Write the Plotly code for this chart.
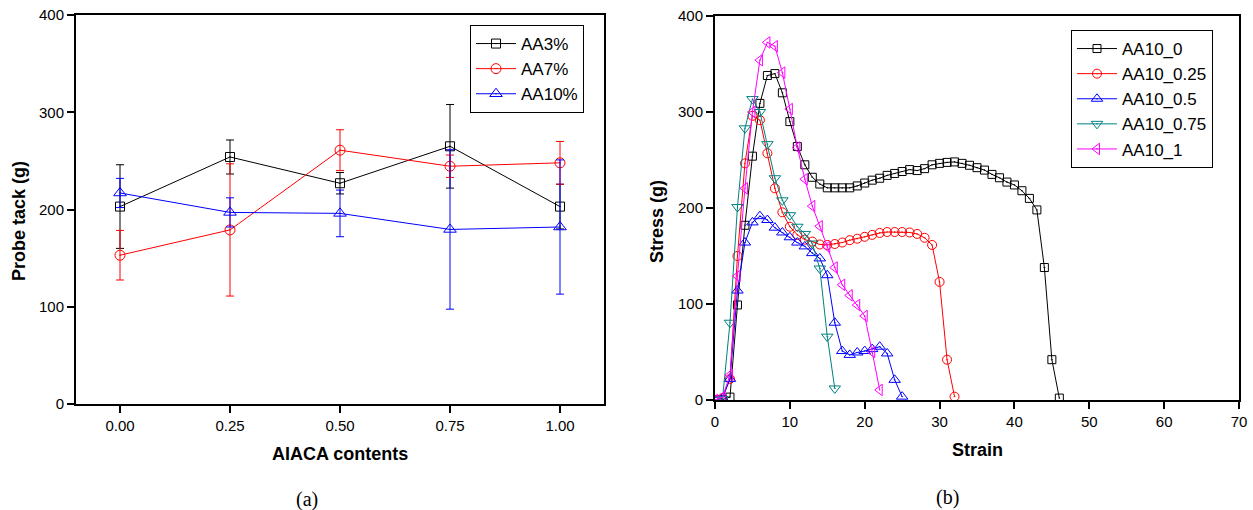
import plotly.graph_objects as go

# ---------- (a) probe tack ----------
aiaca = [0.0, 0.25, 0.5, 0.75, 1.0]
aiaca_labels = ["0.00", "0.25", "0.50", "0.75", "1.00"]
aa3 = [203, 254, 227, 265, 203]
aa3_err = [43, 17.5, 11, 43, 23]
aa7 = [153, 179, 261, 244.5, 248]
aa7_err = [25.5, 68, 21, 11.5, 22]
aa10 = [217, 197, 196, 179.5, 182]
aa10_err = [15, 15, 24, 82, 69]

# ---------- (b) stress-strain ----------
strain_0 = list(range(0, 47))
stress_0 = [0, 0.5, 3, 99, 182, 254, 309, 338, 340, 320, 290, 264, 245, 232, 225, 221,
            221, 221, 221, 223, 226, 229, 231, 234, 236, 238, 240, 239, 241, 245, 246.5,
            247.5, 248, 246.5, 244.5, 242, 239.5, 235, 231.5, 227, 224, 218, 210, 198, 138, 42, 2]
strain_025 = list(range(0, 33))
stress_025 = [0, 2, 22, 150, 246.5, 296, 291.5, 257, 220.5, 195.5, 180.5, 172, 167, 165, 162,
              161.5, 162.5, 164, 166.5, 168, 170, 172, 174, 175, 175, 175, 174.5, 173, 169,
              161.5, 123, 42, 3.5]
strain_05 = list(range(0, 26))
stress_05 = [0, 2, 22, 114, 164, 185, 191.5, 187.5, 179.5, 174.5, 169.5, 164, 160, 153, 147.5,
             130, 80.5, 51, 47, 49.5, 51, 53, 55.5, 48.5, 21, 3.5]
strain_075 = list(range(0, 17))
stress_075 = [0, 1, 80.5, 201, 283, 313.5, 300, 266.5, 231, 208, 192.5, 180.5, 173, 163, 137, 66, 12]
strain_1 = list(range(0, 23))
stress_1 = [0, 3, 26, 129, 220.5, 300, 354, 372.5, 368.5, 341, 303, 263, 230, 202, 181, 159.5,
            138, 120, 109, 99, 87.5, 50, 10.5]

FONT = "Liberation Sans, Arial, sans-serif"
SERIF = "Liberation Serif, Times New Roman, serif"
fig = go.Figure()

left_series = [
    ("AA3%", aa3, aa3_err, "#000000", "square-open-dot", 9),
    ("AA7%", aa7, aa7_err, "#FF0000", "circle-open-dot", 10),
    ("AA10%", aa10, aa10_err, "#0000FF", "triangle-up-open-dot", 11),
]
for name, y, err, col, sym, sz in left_series:
    fig.add_trace(go.Scatter(
        x=aiaca, y=y, name=name, mode="lines+markers", xaxis="x", yaxis="y",
        line=dict(color=col, width=1),
        marker=dict(symbol=sym, size=sz, color=col, line=dict(width=1, color=col)),
        error_y=dict(type="data", array=err, visible=True, color=col, thickness=1, width=4),
        legend="legend",
    ))

right_series = [
    ("AA10_0", strain_0, stress_0, "#000000", "square-open-dot", 8),
    ("AA10_0.25", strain_025, stress_025, "#FF0000", "circle-open-dot", 9),
    ("AA10_0.5", strain_05, stress_05, "#0000FF", "triangle-up-open-dot", 10),
    ("AA10_0.75", strain_075, stress_075, "#008080", "triangle-down-open-dot", 10),
    ("AA10_1", strain_1, stress_1, "#FF00FF", "triangle-left-open-dot", 10),
]
for name, x, y, col, sym, sz in right_series:
    fig.add_trace(go.Scatter(
        x=x, y=y, name=name, mode="lines+markers", xaxis="x2", yaxis="y2",
        line=dict(color=col, width=1),
        marker=dict(symbol=sym, size=sz, color=col, line=dict(width=1, color=col)),
        legend="legend2",
    ))

W, H = 1253, 510
axis_common = dict(showline=True, linecolor="black", linewidth=2, mirror=True,
                   ticks="outside", ticklen=7, tickwidth=1.5, tickcolor="black",
                   showgrid=False, zeroline=False, automargin=False,
                   tickfont=dict(family=FONT, size=15, color="black"))
title_font = dict(family=FONT, size=18, color="black")
label_font = dict(family=SERIF, size=20, color="black")


def ann(text, x, y, font, angle=0):
    return dict(text=text, x=x / W, y=1 - y / H, xref="paper", yref="paper",
                xanchor="center", yanchor="middle", showarrow=False,
                font=font, textangle=angle)


fig.update_layout(
    width=W, height=H, margin=dict(l=0, r=0, t=0, b=0, autoexpand=False),
    paper_bgcolor="white", plot_bgcolor="white",
    showlegend=True,
    xaxis=dict(domain=[76 / W, 604 / W], range=[-0.1, 1.1], tickvals=aiaca,
               ticktext=aiaca_labels, anchor="y", **axis_common),
    yaxis=dict(domain=[1 - 404 / H, 1 - 15 / H], range=[0, 400], dtick=100,
               anchor="x", **axis_common),
    xaxis2=dict(domain=[715 / W, 1239 / W], range=[0, 70], dtick=10,
                anchor="y2", **axis_common),
    yaxis2=dict(domain=[1 - 400 / H, 1 - 16 / H], range=[0, 400], dtick=100,
                anchor="x2", **axis_common),
    legend=dict(x=470 / W, y=1 - 25 / H, xanchor="left", yanchor="top",
                bordercolor="black", borderwidth=1, bgcolor="white",
                font=dict(family=FONT, size=17, color="black"),
                tracegroupgap=0, itemwidth=40),
    legend2=dict(x=1071 / W, y=1 - 30 / H, xanchor="left", yanchor="top",
                 bordercolor="black", borderwidth=1, bgcolor="white",
                 font=dict(family=FONT, size=17, color="black"),
                 tracegroupgap=0, itemwidth=40),
    annotations=[
        ann("<b>Probe tack (g)</b>", 19, 221, title_font, -90),
        ann("<b>AIACA contents</b>", 340, 454, title_font),
        ann("<b>Stress (g)</b>", 657, 222, title_font, -90),
        ann("<b>Strain</b>", 977, 450, title_font),
        ann("(a)", 307, 499, label_font),
        ann("(b)", 947, 497, label_font),
    ],
)

fig.write_html("out.html",
               config={"displayModeBar": False},
               post_script="document.body.style.margin='0px';document.body.style.overflow='hidden';")
